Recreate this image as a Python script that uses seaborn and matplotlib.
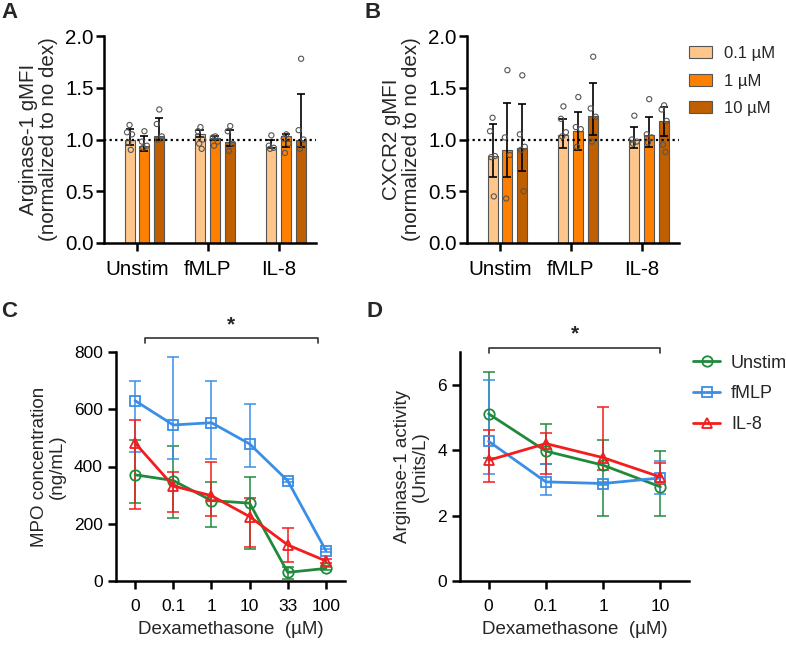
import numpy as np
import pandas as pd
import matplotlib
matplotlib.use("Agg")
import matplotlib.pyplot as plt
from matplotlib.lines import Line2D
import seaborn as sns


GROUPS = ["Unstim", "fMLP", "IL-8"]
DOSES = ["0.1 µM", "1 µM", "10 µM"]
BAR_COLORS = ["#FFC68C", "#FF8000", "#BF5F00"]

# Panel A - Arginase-1 gMFI, rows = group, cols = dose
arg_mean = [[1.00, 0.94, 1.03], [1.05, 1.01, 0.98], [0.93, 1.03, 1.00]]
arg_lo = [[0.95, 0.89, 1.00], [1.02, 1.00, 0.94], [0.92, 0.93, 0.93]]
arg_hi = [[1.10, 1.03, 1.21], [1.09, 1.035, 1.09], [0.995, 1.05, 1.44]]
arg_pts = [
    [[1.14, 1.07, 1.05, 0.97, 0.90], [1.08, 0.98, 0.94, 0.92], [1.29, 1.15, 1.03, 1.00]],
    [[1.12, 1.08, 1.00, 0.96, 0.91], [1.03, 1.02, 0.98, 0.94], [1.13, 1.08, 0.96, 0.89]],
    [[1.04, 0.94, 0.92, 0.91], [1.05, 1.01, 0.96, 0.87], [1.78, 1.09, 1.00, 0.91]],
]

# Panel B - CXCR2 gMFI
cx_mean = [[0.84, 0.90, 0.92], [1.04, 1.08, 1.23], [1.00, 1.04, 1.18]]
cx_lo = [[0.64, 0.64, 0.70], [0.92, 0.90, 1.04], [0.92, 0.93, 1.03]]
cx_hi = [[1.15, 1.35, 1.34], [1.20, 1.27, 1.55], [1.12, 1.22, 1.31]]
cx_pts = [
    [[1.21, 1.08, 0.84, 0.83, 0.45], [1.67, 1.02, 0.85, 0.43], [1.62, 1.05, 0.93, 0.90, 0.50]],
    [[1.32, 1.20, 1.07, 1.03], [1.41, 1.12, 1.10, 0.93], [1.80, 1.30, 1.22, 0.98]],
    [[1.23, 1.00, 0.98, 0.96], [1.39, 1.05, 1.02, 0.97], [1.33, 1.29, 1.18, 0.95, 0.88]],
]

STIMS = ["Unstim", "fMLP", "IL-8"]
LINE_COLORS = ["#1F8A3C", "#3A8EE6", "#F21D1D"]
MARKERS = ["o", "s", "^"]

# Panel C - MPO concentration (ng/mL)
DEX_C = ["0", "0.1", "1", "10", "33", "100"]
mpo_mean = [[371, 351, 281, 272, 30, 44],
            [630, 545, 553, 479, 350, 106],
            [482, 332, 298, 225, 126, 70]]
mpo_lo = [[272, 219, 190, 111, 7, 40],
          [450, 425, 425, 397, 345, 101],
          [251, 240, 228, 118, 68, 63]]
mpo_hi = [[493, 473, 347, 365, 50, 49],
          [697, 784, 700, 620, 355, 111],
          [563, 380, 415, 289, 186, 77]]

# Panel D - Arginase-1 activity (Units/L)
DEX_D = ["0", "0.1", "1", "10"]
act_mean = [[5.11, 3.97, 3.54, 2.88],
            [4.27, 3.03, 2.98, 3.15],
            [3.69, 4.20, 3.77, 3.18]]
act_lo = [[3.75, 3.59, 1.99, 1.99],
          [3.28, 2.62, 2.92, 2.67],
          [3.03, 3.26, 3.38, 2.95]]
act_hi = [[6.38, 4.81, 4.32, 3.97],
          [6.15, 3.59, 3.04, 3.66],
          [4.62, 4.52, 5.32, 3.62]]

W, H = 786, 646
FS_BAR = 14.8      # panels A/B text
FS_TICK = 12.5     # panels C/D tick labels
FS_LAB = 13.5      # panels C/D axis titles

sns.set_style("ticks")
plt.rcParams["font.family"] = ["Liberation Sans", "DejaVu Sans"]
plt.rcParams["axes.linewidth"] = 1.8
plt.rcParams["xtick.major.width"] = 1.8
plt.rcParams["ytick.major.width"] = 1.8
plt.rcParams["xtick.major.size"] = 6
plt.rcParams["ytick.major.size"] = 6
plt.rcParams["xtick.color"] = "black"
plt.rcParams["ytick.color"] = "black"
plt.rcParams["axes.edgecolor"] = "black"

fig = plt.figure(figsize=(W / 100, H / 100), dpi=100)


def px_rect(left, right, top, bottom):
    return [left / W, 1 - bottom / H, (right - left) / W, (bottom - top) / H]


def bar_panel(ax, means, lows, highs, points, ylabel, show_legend):
    rows = []
    for g, grp in enumerate(GROUPS):
        for d, dose in enumerate(DOSES):
            rows.append({"group": grp, "dose": dose, "value": means[g][d]})
    df = pd.DataFrame(rows)
    sns.barplot(data=df, x="group", y="value", hue="dose", order=GROUPS,
                hue_order=DOSES, palette=BAR_COLORS, saturation=1,
                width=0.63, gap=0.33, errorbar=None, edgecolor="#555555",
                linewidth=0.8, legend=show_legend, ax=ax)
    ax.axhline(1.0, color="black", ls=(0, (1, 1.5)), lw=1.6, zorder=1)
    offsets = [0.0, -0.035, 0.035, -0.018, 0.018]
    bar_containers = list(ax.containers)
    for d, container in enumerate(bar_containers):
        for g, bar in enumerate(container):
            x = bar.get_x() + bar.get_width() / 2
            m = means[g][d]
            ax.errorbar(x, m, yerr=[[m - lows[g][d]], [highs[g][d] - m]],
                        color="black", lw=1.2, capsize=3, capthick=1.2, zorder=4)
            pts = points[g][d]
            ax.scatter([x + offsets[k % 5] for k in range(len(pts))], pts,
                       s=14, facecolors="none", edgecolors="#555555",
                       linewidths=0.8, zorder=5)
    ax.set_ylim(0, 2.0)
    ax.set_yticks([0, 0.5, 1.0, 1.5, 2.0])
    ax.set_yticklabels(["0.0", "0.5", "1.0", "1.5", "2.0"])
    ax.set_xlim(-0.57, 2.42)
    ax.set_xticks([k - 0.106 for k in range(len(GROUPS))], GROUPS)
    ax.tick_params(labelsize=FS_BAR)
    ax.tick_params(axis="y", pad=1.5)
    ax.tick_params(axis="x", pad=6)
    ax.set_xlabel("")
    ax.set_ylabel(ylabel, fontsize=FS_BAR, linespacing=1.05, labelpad=5)
    sns.despine(ax=ax)


def line_panel(ax, dex, means, lows, highs, ylabel):
    rows = []
    for s, stim in enumerate(STIMS):
        for k, dx in enumerate(dex):
            rows.append({"stim": stim, "dex": dx, "value": means[s][k]})
    df = pd.DataFrame(rows)
    pos = np.arange(len(dex))
    for s, stim in enumerate(STIMS):
        m = np.array(means[s])
        ax.errorbar(pos, m, yerr=[m - np.array(lows[s]), np.array(highs[s]) - m],
                    fmt="none", ecolor=LINE_COLORS[s], elinewidth=1.1,
                    capsize=4.5, capthick=1.1, zorder=2)
    sns.pointplot(data=df, x="dex", y="value", hue="stim", order=dex,
                  hue_order=STIMS, palette=LINE_COLORS, markers=MARKERS,
                  linestyles="-", errorbar=None, linewidth=2, markersize=7.5,
                  markeredgewidth=1.3, mfc="none", legend=False, ax=ax)
    ax.tick_params(labelsize=FS_TICK)
    ax.tick_params(axis="x", pad=7)
    ax.set_xlabel("Dexamethasone  (µM)", fontsize=FS_LAB, labelpad=5)
    ax.set_ylabel(ylabel, fontsize=FS_LAB, linespacing=1.05, labelpad=6)
    ax.set_xlim(-0.5, len(dex) - 0.5)
    sns.despine(ax=ax)


def sig_bracket(ax, x0, x1, ylow, yhigh, ystar):
    ax.plot([x0, x0, x1, x1], [ylow, yhigh, yhigh, ylow], color="#333333",
            lw=1.2, clip_on=False)
    ax.text((x0 + x1) / 2, ystar, "*", ha="center", va="center",
            fontsize=15, fontweight="bold")


# Panel A
axA = fig.add_axes(px_rect(104, 316, 36, 243))
bar_panel(axA, arg_mean, arg_lo, arg_hi, arg_pts,
          "Arginase-1 gMFI\n(normalized to no dex)", False)

# Panel B
axB = fig.add_axes(px_rect(467, 679, 36, 243))
bar_panel(axB, cx_mean, cx_lo, cx_hi, cx_pts,
          "CXCR2 gMFI\n(normalized to no dex)", True)
sns.move_legend(axB, "upper left", bbox_to_anchor=(1.0, 1.0), frameon=False,
                title=None, fontsize=12, handlelength=1.4, handleheight=0.75,
                labelspacing=0.75, handletextpad=0.7, borderaxespad=0.2)

# Panel C
axC = fig.add_axes(px_rect(116, 345, 352, 581))
line_panel(axC, DEX_C, mpo_mean, mpo_lo, mpo_hi, "MPO concentration\n(ng/mL)")
axC.set_ylim(0, 800)
axC.set_yticks([0, 200, 400, 600, 800])
sig_bracket(axC, 0.26, 4.78, 832, 849, 895)

# Panel D
axD = fig.add_axes(px_rect(460, 689, 352, 581))
line_panel(axD, DEX_D, act_mean, act_lo, act_hi, "Arginase-1 activity\n(Units/L)")
axD.set_ylim(0, 7)
axD.set_yticks([0, 2, 4, 6])
sig_bracket(axD, 0, 3, 6.97, 7.12, 7.56)
handles = [Line2D([], [], color=c, marker=mk, mfc="none", lw=2, ms=7.5, mew=1.3)
           for c, mk in zip(LINE_COLORS, MARKERS)]
axD.legend(handles, STIMS, loc="upper left", bbox_to_anchor=(0.97, 1.035),
           frameon=False, fontsize=13, handlelength=1.5, labelspacing=0.75,
           handletextpad=0.6, borderaxespad=0.2)

for label, (x, y) in zip("ABCD", [(1, 2), (364, 2), (1, 301), (366, 301)]):
    fig.text(x / W, 1 - y / H, label, fontsize=16, fontweight="bold",
             ha="left", va="top")

fig.savefig("out.png", dpi=100)
plt.close(fig)
